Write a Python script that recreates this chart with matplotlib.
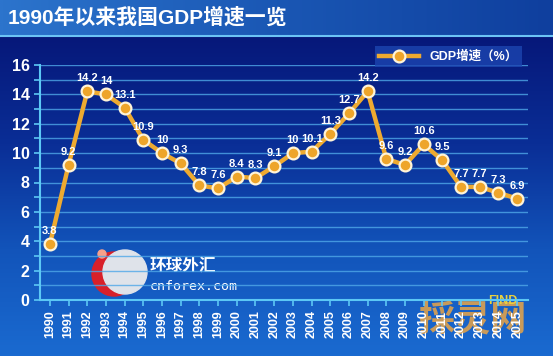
import numpy as np
import matplotlib.pyplot as plt
from matplotlib.colors import LinearSegmentedColormap
from matplotlib.ticker import MultipleLocator
from matplotlib.patches import Ellipse

plt.rcParams['font.family'] = ['Liberation Sans', 'Noto Sans CJK SC', 'DejaVu Sans']

years = list(range(1990, 2016))
gdp = [3.8, 9.2, 14.2, 14, 13.1, 10.9, 10, 9.3, 7.8, 7.6, 8.4, 8.3, 9.1,
       10, 10.1, 11.3, 12.7, 14.2, 9.6, 9.2, 10.6, 9.5, 7.7, 7.7, 7.3, 6.9]
labels = ['3.8', '9.2', '14.2', '14', '13.1', '10.9', '10', '9.3', '7.8', '7.6',
          '8.4', '8.3', '9.1', '10', '10.1', '11.3', '12.7', '14.2', '9.6', '9.2',
          '10.6', '9.5', '7.7', '7.7', '7.3', '6.9']
title = '1990年以来我国GDP增速一览'
legend_label = 'GDP增速（%）'

W, H = 553, 356
fig = plt.figure(figsize=(W / 100, H / 100), dpi=100)

# background gradient
bg = fig.add_axes([0, 0, 1, 1])
bg.set_axis_off()
cmap = LinearSegmentedColormap.from_list('bgc', ['#06187a', '#0a2e96', '#1254ba', '#1a6ad0'])
grad = np.linspace(0, 1, 300).reshape(-1, 1)
bg.imshow(grad, aspect='auto', cmap=cmap, extent=[0, 1, 0, 1 - 37 / H], origin='upper')
# title bar
tcmap = LinearSegmentedColormap.from_list('tc', ['#2c74cc', '#1a57b4', '#0f3f9e'])
tgrad = np.linspace(0, 1, 300).reshape(1, -1)
bg.imshow(tgrad, aspect='auto', cmap=tcmap, extent=[0, 1, 1 - 35 / H, 1])
bg.axhline(1 - 36 / H, color='#6cc4f5', lw=1.5)
bg.set_xlim(0, 1)
bg.set_ylim(0, 1)
bg.text(8 / W, 1 - 17 / H, title, color='white', fontsize=15, fontweight='bold',
        va='center', ha='left')

ax = fig.add_axes([40 / W, 1 - 300 / H, 488 / W, 235 / H])
ax.patch.set_alpha(0)
ax.plot(years, gdp, color='#eeaa30', lw=3.2, marker='o', markersize=8.5,
        markerfacecolor='#eea52a', markeredgecolor='#fff4d8', markeredgewidth=1.6,
        zorder=3, label=legend_label)
for x, y, s in zip(years, gdp, labels):
    ax.text(x, y + 0.55, s, color='white', fontsize=8, fontweight='bold',
            ha='center', va='bottom', zorder=4)

ax.set_xlim(1989.47, 2015.58)
ax.set_ylim(0, 16)
ax.yaxis.set_major_locator(MultipleLocator(2))
ax.yaxis.set_minor_locator(MultipleLocator(1))
ax.set_xticks(years)
ax.set_xticklabels([str(y) for y in years], rotation=90)
ax.grid(axis='y', which='both', color='#4fa8e8', lw=1, alpha=0.8)
for s in ['top', 'right']:
    ax.spines[s].set_visible(False)
for s in ['left', 'bottom']:
    ax.spines[s].set_color('#5cc8f5')
    ax.spines[s].set_linewidth(1.5)
ax.tick_params(axis='both', which='both', colors='#5cc8f5', length=4, width=1.2)
ax.tick_params(axis='both', labelcolor='white', labelsize=10)
for t in ax.get_yticklabels():
    t.set_fontweight('bold')
    t.set_fontsize(11.5)
for t in ax.get_xticklabels():
    t.set_fontweight('bold')
    t.set_fontsize(9)

leg = fig.legend(loc='upper right', bbox_to_anchor=(528 / W, 1 - 40 / H), frameon=True,
                 fancybox=False, fontsize=9, borderpad=0.35, handlelength=3.2)
leg.get_frame().set_facecolor('#1c45b0')
leg.get_frame().set_edgecolor('none')
for t in leg.get_texts():
    t.set_color('white')
    t.set_fontweight('bold')

# watermark logos (in pixel coords of the figure)
px = fig.transFigure
bg.add_patch(Ellipse((114 / W, 1 - 274 / H), 44 / W, 44 / H,
                     transform=px, color='#d8202a', zorder=5))
bg.add_patch(Ellipse((125 / W, 1 - 272 / H), 44 / W, 44 / H, transform=px,
                     color='#dfe3ea', zorder=6))
bg.add_patch(Ellipse((102 / W, 1 - 254 / H), 8 / W, 8 / H, transform=px,
                     color='#f6a08a', zorder=6))
bg.text(150 / W, 1 - 266 / H, '环球外汇', color='white', fontsize=12, fontweight='bold',
        va='center', ha='left', zorder=6)
bg.text(150 / W, 1 - 287 / H, 'cnforex.com', color='white', fontsize=9.5,
        family='DejaVu Sans Mono', va='center', ha='left', zorder=6)
bg.text(418 / W, 1 - 322 / H, '採灵网', color='#c89a5a', fontsize=26, fontweight='bold',
        va='center', ha='left', zorder=7)
bg.text(488 / W, 1 - 301 / H, 'FIND', color='#e8d040', fontsize=9, fontweight='bold',
        va='center', ha='left', zorder=7)
bg.set_zorder(0)
ax.set_zorder(1)

fig.savefig('out.png', dpi=100)
